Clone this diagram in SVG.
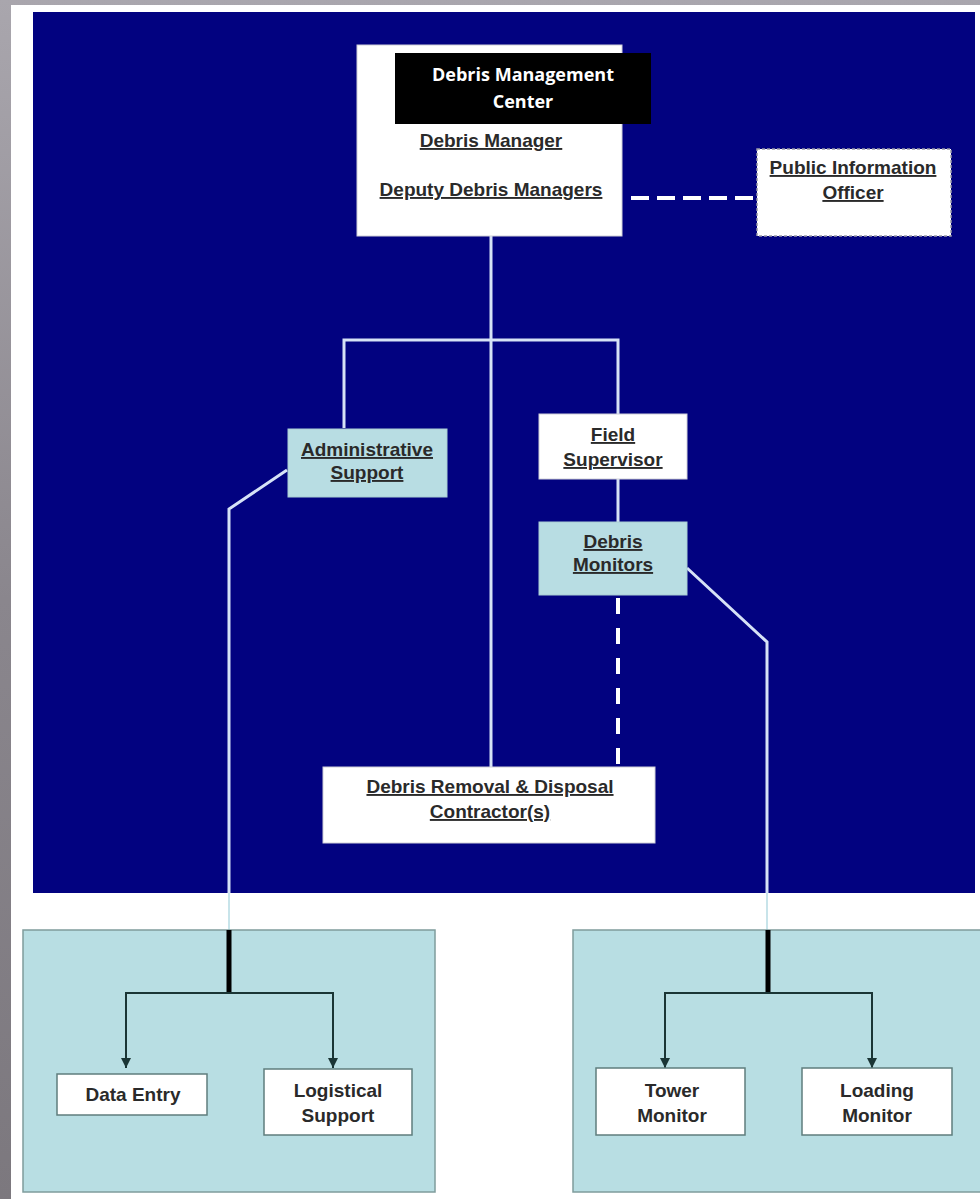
<svg xmlns="http://www.w3.org/2000/svg" width="980" height="1199" viewBox="0 0 980 1199">
  <defs>
    <linearGradient id="bgGrad" x1="0" y1="0" x2="0" y2="1">
      <stop offset="0" stop-color="#a9a6ad"/>
      <stop offset="0.5" stop-color="#8a868d"/>
      <stop offset="1" stop-color="#7c787e"/>
    </linearGradient>
    <marker id="arrow" viewBox="0 0 10 10" refX="10" refY="5" markerWidth="5" markerHeight="5" orient="auto" markerUnits="strokeWidth">
      <path d="M0,0 L10,5 L0,10 z" fill="#1a3535"/>
    </marker>
    <style>
      .lbl { font-family: "Liberation Sans", Arial, sans-serif; font-weight: bold; font-size: 19px; fill: #2a2a2a; text-anchor: middle; }
      .u { text-decoration: underline; }
      .white { fill: #ffffff; stroke: #d0d0d8; stroke-width: 1; }
      .cyan { fill: #b8dde3; stroke: #a9cdd3; stroke-width: 1; }
      .lite { fill: #ffffff; stroke: #5f7d7d; stroke-width: 1.5; }
      .panel { fill: #b8dee3; stroke: #7f9c9c; stroke-width: 1.5; }
      .conn { fill: none; stroke: #d6e2f6; stroke-width: 3; }
      .dash { fill: none; stroke: #ffffff; stroke-width: 4; }
      .arr { fill: none; stroke: #1a3535; stroke-width: 2; }
      .thick { fill: none; stroke: #000000; stroke-width: 5; }
      .title { font-family: "Open Sans", "Liberation Sans", sans-serif; font-weight: bold; font-size: 18px; fill: #ffffff; text-anchor: middle; }
    </style>
  </defs>

  <!-- background -->
  <rect x="0" y="0" width="980" height="1199" fill="url(#bgGrad)"/>
  <rect x="11" y="5" width="969" height="1194" fill="#ffffff"/>
  <rect x="33" y="12" width="942" height="881" fill="#020280"/>

  <!-- connectors -->
  <g id="connectors">
    <line class="dash" x1="631" y1="198" x2="755" y2="198" stroke-dasharray="18 8"/>
    <line class="conn" x1="491" y1="236" x2="491" y2="767"/>
    <polyline class="conn" points="344,428 344,340 618,340 618,414"/>
    <line class="conn" x1="618" y1="479" x2="618" y2="522"/>
    <line class="dash" x1="618" y1="598" x2="618" y2="765" stroke-width="5" stroke-dasharray="16 14"/>
    <polyline class="conn" points="287,470 229,509 229,893"/>
    <polyline class="conn" points="687,568 767,642 767,893"/>
    <line x1="229" y1="893" x2="229" y2="930" stroke="#c8e4ea" stroke-width="2"/>
    <line x1="767" y1="893" x2="767" y2="930" stroke="#c8e4ea" stroke-width="2"/>
  </g>

  <!-- bottom panels -->
  <g id="admin-panel">
    <rect class="panel" x="23" y="930" width="412" height="262"/>
    <line class="thick" x1="229" y1="930" x2="229" y2="993"/>
    <polyline class="arr" points="126,1000 126,993 333,993 333,1000"/>
    <line class="arr" x1="126" y1="1000" x2="126" y2="1068" marker-end="url(#arrow)"/>
    <line class="arr" x1="333" y1="1000" x2="333" y2="1068" marker-end="url(#arrow)"/>
  </g>
  <g id="monitor-panel">
    <rect class="panel" x="573" y="930" width="412" height="262"/>
    <line class="thick" x1="768" y1="930" x2="768" y2="993"/>
    <polyline class="arr" points="665,1000 665,993 872,993 872,1000"/>
    <line class="arr" x1="665" y1="1000" x2="665" y2="1068" marker-end="url(#arrow)"/>
    <line class="arr" x1="872" y1="1000" x2="872" y2="1068" marker-end="url(#arrow)"/>
  </g>

  <!-- nodes -->
  <g id="dmc">
    <rect class="white" x="357" y="45" width="265" height="191"/>
    <text class="lbl u" x="491" y="147">Debris Manager</text>
    <text class="lbl u" x="491" y="196">Deputy Debris Managers</text>
  </g>
  <g id="dmc-title">
    <rect x="395" y="53" width="256" height="71" fill="#000000"/>
    <text class="title" x="523" y="81">Debris Management</text>
    <text class="title" x="523" y="108">Center</text>
  </g>
  <g id="pio">
    <rect x="757" y="149" width="194" height="87" fill="#ffffff" stroke="#9a9aa8" stroke-width="1.5" stroke-dasharray="3 2"/>
    <text class="lbl u" x="853" y="174">Public Information</text>
    <text class="lbl u" x="853" y="199">Officer</text>
  </g>
  <g id="admin-support">
    <rect class="cyan" x="288" y="429" width="159" height="68"/>
    <text class="lbl u" x="367" y="456">Administrative</text>
    <text class="lbl u" x="367" y="479">Support</text>
  </g>
  <g id="field-supervisor">
    <rect class="white" x="539" y="414" width="148" height="65"/>
    <text class="lbl u" x="613" y="441">Field</text>
    <text class="lbl u" x="613" y="466">Supervisor</text>
  </g>
  <g id="debris-monitors">
    <rect class="cyan" x="539" y="522" width="148" height="73"/>
    <text class="lbl u" x="613" y="548">Debris</text>
    <text class="lbl u" x="613" y="571">Monitors</text>
  </g>
  <g id="contractors">
    <rect class="white" x="323" y="767" width="332" height="76"/>
    <text class="lbl u" x="490" y="793">Debris Removal &amp; Disposal</text>
    <text class="lbl u" x="490" y="818">Contractor(s)</text>
  </g>
  <g id="data-entry">
    <rect class="lite" x="57" y="1074" width="150" height="41"/>
    <text class="lbl" x="133" y="1101">Data Entry</text>
  </g>
  <g id="logistical-support">
    <rect class="lite" x="264" y="1069" width="148" height="66"/>
    <text class="lbl" x="338" y="1097">Logistical</text>
    <text class="lbl" x="338" y="1122">Support</text>
  </g>
  <g id="tower-monitor">
    <rect class="lite" x="596" y="1068" width="149" height="67"/>
    <text class="lbl" x="672" y="1097">Tower</text>
    <text class="lbl" x="672" y="1122">Monitor</text>
  </g>
  <g id="loading-monitor">
    <rect class="lite" x="802" y="1068" width="150" height="67"/>
    <text class="lbl" x="877" y="1097">Loading</text>
    <text class="lbl" x="877" y="1122">Monitor</text>
  </g>
</svg>
